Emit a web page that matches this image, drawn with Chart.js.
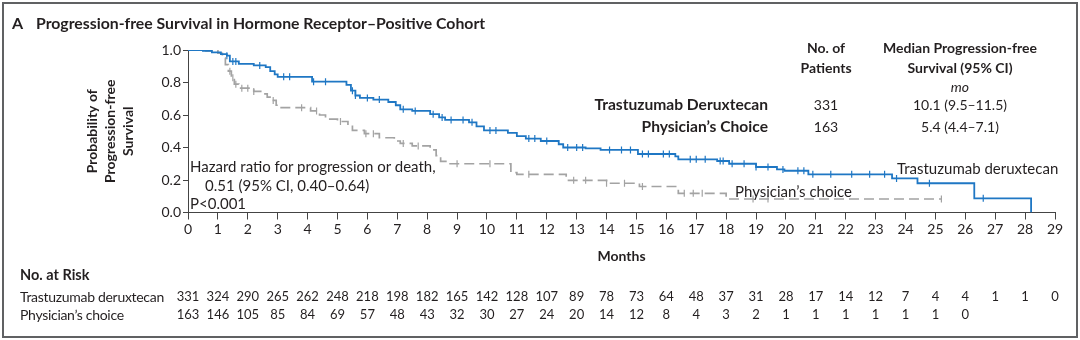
<!DOCTYPE html>
<html>
<head>
<meta charset="utf-8">
<script src="https://cdn.jsdelivr.net/npm/chart.js@4.4.1/dist/chart.umd.min.js"></script>
<style>
  body { margin: 0; background: #fff; }
  #wrap { position: relative; width: 1080px; height: 340px; font-family: Lato, sans-serif; color: #231f20; overflow: hidden; }
  #frame { position: absolute; left: 2px; top: 2px; width: 1072px; height: 332px; border: 2px solid #606163; }
  canvas { position: absolute; left: 0; top: 0; }
  .t { position: absolute; white-space: nowrap; line-height: 1; font-size: 14px; transform: translate(0, -50%); }
  .c { transform: translate(-50%, -50%); }
  .r { transform: translate(-100%, -50%); }
  .b { font-weight: 700; }
  .n { font-size: 15px; }
  .rk { font-size: 14px; letter-spacing: -0.3px; }
</style>
</head>
<body>
<div id="wrap">
  <canvas id="km" width="1080" height="340"></canvas>
  <div id="frame"></div>

  <div class="t b" style="left:12px; top:23px; font-size:16px;">A</div>
  <div class="t b" style="left:36px; top:23px; font-size:15.8px;">Progression-free Survival in Hormone Receptor–Positive Cohort</div>

  <div class="t b c" style="left:826px; top:48px;">No. of</div>
  <div class="t b c" style="left:826px; top:68px;">Patients</div>
  <div class="t b c" style="left:960px; top:48px;">Median Progression-free</div>
  <div class="t b c" style="left:960px; top:68px;">Survival (95% CI)</div>
  <div class="t c" style="left:960px; top:87px; font-style:italic;">mo</div>
  <div class="t b r" style="left:768px; top:105px; font-size:15.6px;">Trastuzumab Deruxtecan</div>
  <div class="t b r" style="left:768px; top:127px; font-size:15.6px;">Physician’s Choice</div>
  <div class="t c" style="left:826px; top:105px;">331</div>
  <div class="t c" style="left:826px; top:127px;">163</div>
  <div class="t c" style="left:960px; top:105px;">10.1 (9.5–11.5)</div>
  <div class="t c" style="left:960px; top:127px;">5.4 (4.4–7.1)</div>

  <div class="t n" style="left:190px; top:166px;">Hazard ratio for progression or death,</div>
  <div class="t n" style="left:205px; top:185px;">0.51 (95% CI, 0.40–0.64)</div>
  <div class="t n" style="left:190px; top:203px;">P&lt;0.001</div>

  <div class="t n" style="left:897px; top:168px;">Trastuzumab deruxtecan</div>
  <div class="t n" style="left:735px; top:191px;">Physician’s choice</div>

  <div class="t b" style="left:20px; top:275px; font-size:14.5px;">No. at Risk</div>
  <div class="t rk" style="left:20px; top:297px;">Trastuzumab deruxtecan</div>
  <div class="t rk" style="left:20px; top:315px;">Physician’s choice</div>
</div>

<script>
// step points (month, survival)
const tdxdTime = [0, 0.5, 0.8, 1.1, 1.3, 1.4, 1.7, 2.2, 2.6, 2.75, 2.9, 3.0, 4.15, 5.3, 5.45, 5.6, 5.75, 6.2, 6.7, 6.95, 7.1, 7.5, 8.1, 8.4, 8.6, 9.4, 9.65, 9.9, 10.7, 11.0, 11.3, 11.8, 12.4, 12.55, 13.3, 13.8, 15.05, 16.3, 16.4, 17.7, 18.1, 19.0, 19.7, 19.95, 20.75, 23.55, 24.4, 26.3, 28.2];
const tdxdSurv = [1.0, 0.995, 0.985, 0.975, 0.965, 0.93, 0.915, 0.905, 0.895, 0.87, 0.85, 0.835, 0.805, 0.785, 0.75, 0.72, 0.705, 0.695, 0.68, 0.66, 0.635, 0.625, 0.605, 0.585, 0.57, 0.555, 0.53, 0.505, 0.49, 0.47, 0.455, 0.44, 0.42, 0.40, 0.395, 0.385, 0.36, 0.345, 0.327, 0.317, 0.30, 0.28, 0.265, 0.257, 0.235, 0.21, 0.18, 0.087, 0.0];

const pcTime = [0, 0.6, 1.0, 1.15, 1.25, 1.35, 1.45, 1.55, 1.7, 2.2, 2.5, 2.65, 2.8, 2.95, 3.05, 4.1, 4.4, 4.6, 5.0, 5.35, 5.5, 5.9, 6.4, 6.9, 7.1, 7.5, 8.1, 8.3, 8.45, 8.7, 10.8, 11.0, 12.65, 14.0, 15.1, 16.4, 18.0, 25.2];
const pcSurv = [1.0, 0.995, 0.98, 0.95, 0.91, 0.87, 0.83, 0.79, 0.765, 0.745, 0.73, 0.71, 0.69, 0.66, 0.645, 0.625, 0.60, 0.575, 0.56, 0.535, 0.505, 0.485, 0.46, 0.44, 0.425, 0.41, 0.385, 0.35, 0.315, 0.30, 0.245, 0.235, 0.198, 0.18, 0.16, 0.118, 0.083, 0.083];

// censoring times (months)
const tdxdCensor = [1.3, 1.5, 1.6, 2.4, 3.2, 3.4, 4.2, 4.6, 5.5, 5.6, 6.0, 6.4, 7.2, 7.6, 8.2, 8.5, 8.8, 9.2, 9.5, 10.1, 10.3, 11.4, 11.6, 12.0, 12.7, 13.0, 13.2, 14.1, 14.5, 14.8, 15.2, 15.4, 15.9, 16.1, 16.8, 17.0, 17.3, 17.8, 17.9, 18.2, 18.6, 19.0, 19.4, 19.9, 20.4, 20.6, 20.9, 21.5, 22.2, 22.8, 23.3, 23.7, 24.8, 26.6];
const pcCensor = [1.4, 1.5, 1.6, 1.8, 2.0, 2.2, 2.85, 3.8, 4.3, 5.1, 5.95, 6.2, 7.2, 7.7, 9.0, 10.1, 11.4, 12.9, 13.3, 14.0, 14.6, 15.2, 16.6, 16.9, 17.2, 18.9, 19.4, 25.2];

// number at risk at each month
const riskTdxd = [331, 324, 290, 265, 262, 248, 218, 198, 182, 165, 142, 128, 107, 89, 78, 73, 64, 48, 37, 31, 28, 17, 14, 12, 7, 4, 4, 1, 1, 0];
const riskPc = [163, 146, 105, 85, 84, 69, 57, 48, 43, 32, 30, 27, 24, 20, 14, 12, 8, 4, 3, 2, 1, 1, 1, 1, 1, 1, 0];

const blue = '#1f77c4';
const gray = '#a3a3a3';
const ink = '#231f20';

function survAt(times, surv, t) {
  let s = surv[0];
  for (let i = 0; i < times.length; i++) {
    if (times[i] <= t) s = surv[i];
  }
  return s;
}

const riskTable = {
  id: 'riskTable',
  afterDraw(chart) {
    const { ctx } = chart;
    const x = chart.scales.x;
    ctx.save();
    ctx.font = '13px Lato';
    ctx.fillStyle = ink;
    ctx.textAlign = 'center';
    ctx.textBaseline = 'middle';
    riskTdxd.forEach((n, i) => ctx.fillText(String(n), x.getPixelForValue(i), 297));
    riskPc.forEach((n, i) => ctx.fillText(String(n), x.getPixelForValue(i), 315));
    ctx.restore();
  }
};

new Chart(document.getElementById('km').getContext('2d'), {
  type: 'line',
  data: {
    datasets: [
      {
        label: 'Trastuzumab deruxtecan',
        data: tdxdTime.map((t, i) => ({ x: t, y: tdxdSurv[i] })),
        borderColor: blue,
        borderWidth: 1.8,
        stepped: 'before',
        pointRadius: 0
      },
      {
        label: 'Physician’s choice',
        data: pcTime.map((t, i) => ({ x: t, y: pcSurv[i] })),
        borderColor: gray,
        borderWidth: 1.7,
        borderDash: [10, 5],
        stepped: 'before',
        pointRadius: 0
      },
      {
        type: 'scatter',
        data: tdxdCensor.map(t => ({ x: t, y: survAt(tdxdTime, tdxdSurv, t) })),
        pointStyle: 'line',
        rotation: 90,
        pointRadius: 3.5,
        borderColor: blue,
        borderWidth: 1.2
      },
      {
        type: 'scatter',
        data: pcCensor.map(t => ({ x: t, y: survAt(pcTime, pcSurv, t) })),
        pointStyle: 'line',
        rotation: 90,
        pointRadius: 3.5,
        borderColor: gray,
        borderWidth: 1.2
      }
    ]
  },
  options: {
    responsive: false,
    animation: false,
    devicePixelRatio: 1,
    layout: { padding: { left: 0, top: 50, right: 25, bottom: 0 } },
    plugins: { legend: { display: false }, tooltip: { enabled: false } },
    scales: {
      x: {
        type: 'linear',
        min: 0,
        max: 29,
        afterFit: s => { s.height = 127.5; },
        ticks: { stepSize: 1, autoSkip: false, maxRotation: 0, padding: 2, color: ink, font: { family: 'Lato', size: 14 } },
        grid: { drawOnChartArea: false, tickLength: 7, color: '#444', tickColor: '#444' },
        border: { color: '#444', width: 1 },
        title: { display: true, text: 'Months', color: ink, font: { family: 'Lato', size: 14, weight: 'bold' }, padding: { bottom: 75.6 } }
      },
      y: {
        min: 0,
        max: 1,
        afterFit: s => { s.width = 188; },
        ticks: { stepSize: 0.2, padding: 2, color: ink, font: { family: 'Lato', size: 14 }, callback: v => v.toFixed(1) },
        grid: { drawOnChartArea: false, tickLength: 5, color: '#444', tickColor: '#444' },
        border: { color: '#444', width: 1 },
        title: {
          display: true,
          text: ['Probability of', 'Progression-free', 'Survival'],
          color: ink,
          font: { family: 'Lato', size: 14, weight: 'bold', lineHeight: 1.3 },
          padding: { top: 83 }
        }
      }
    }
  },
  plugins: [riskTable]
});
</script>
</body>
</html>
